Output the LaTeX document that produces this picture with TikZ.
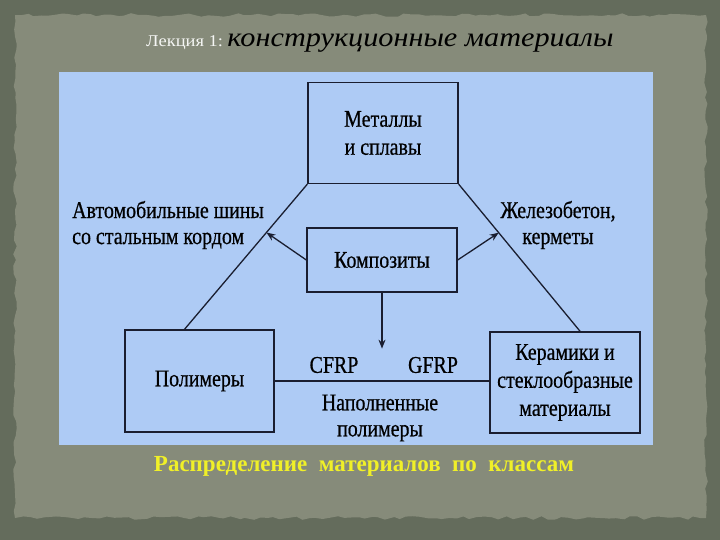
\documentclass[tikz,border=0pt]{standalone}
\usepackage{fontspec}
\setmainfont{Liberation Serif}
\newfontfamily\scanfont[FakeStretch=0.83,FakeBold=0.6]{Liberation Serif}
\newfontfamily\titlefont[FakeStretch=1.12]{Liberation Serif}
\usetikzlibrary{arrows.meta,calc,decorations.pathmorphing}

\definecolor{slate}{RGB}{100,108,92}
\definecolor{paper}{RGB}{134,139,122}
\definecolor{sky}{RGB}{174,203,245}
\definecolor{ink}{RGB}{26,30,48}
\definecolor{capyellow}{RGB}{240,240,40}

\tikzset{
  box/.style={draw=ink, line width=1.3pt, align=center, inner sep=0pt,
    font=\scanfont\fontsize{24}{28}\selectfont},
  lbl/.style={inner sep=0pt, font=\scanfont\fontsize{24}{26}\selectfont},
  link/.style={draw=ink, line width=1.3pt},
  arr/.style={link, -{Stealth[length=9pt,width=7pt]}}
}

\begin{document}
\begin{tikzpicture}[x=1pt,y=1pt,yscale=-1,xscale=1]
\useasboundingbox (0,0) rectangle (720,540);

% background and torn paper
\fill[slate] (0,0) rectangle (720,540);
\pgfmathsetseed{7}
\fill[paper, decorate, decoration={random steps, segment length=7pt, amplitude=1.8pt}]
  (15,15) rectangle (706,518);

% title
\node[anchor=base west, inner sep=0pt, text=white!92!paper,
  font=\titlefont\fontsize{16.5}{18}\selectfont] (lect) at (146,47) {Лекция 1:};
\node[anchor=base west, inner sep=0pt, xshift=4pt,
  font=\titlefont\fontsize{27}{30}\itshape] (topic) at (lect.base east) {конструкционные материалы};

% blue panel
\fill[sky] (59,72) rectangle (653,445);

% boxes
\node[box, minimum width=150, minimum height=101] (metals) at (383,133) {Металлы\\и сплавы};
\node[box, minimum width=150, minimum height=64] (comp) at (382,260) {Композиты};
\node[box, minimum width=149, minimum height=102] (poly) at (199.5,381) {Полимеры};
\node[box, minimum width=150, minimum height=101] (ceram) at (565,382.5) {Керамики и\\стеклообразные\\материалы};

% triangle sides
\coordinate (lfoot) at ($(poly.north west)!0.4!(poly.north east)$);
\coordinate (rfoot) at ($(ceram.north west)!0.6!(ceram.north east)$);
\draw[link] (metals.south west) -- (lfoot);
\draw[link] (metals.south east) -- (rfoot);
\draw[link] (poly.east) -- (poly.east -| ceram.west);

% arrows from composites
\coordinate (ltip) at ($(metals.south west)!0.333!(lfoot)$);
\coordinate (rtip) at ($(metals.south east)!0.33!(rfoot)$);
\coordinate (dtip) at ($(comp.south)+(0,56)$);
\draw[arr] (comp.west) -- (ltip);
\draw[arr] (comp.east) -- (rtip);
\draw[arr] (comp.south) -- (dtip);

% labels
\node[lbl, anchor=west, align=left] (tires) at (72,225) {Автомобильные шины\\со стальным кордом};
\node[lbl, align=center] (rconc) at (558,225) {Железобетон,\\керметы};
\node[lbl] (cfrp) at (334,365) {CFRP};
\node[lbl] (gfrp) at (433,365) {GFRP};
\node[lbl, align=center] (filled) at (380,418) {Наполненные\\полимеры};

% caption
\node[text=capyellow, font=\bfseries\fontsize{23}{25}\selectfont, inner sep=0pt]
  (caption) at (364,466) {Распределение\ \ материалов\ \ по\ \ классам};
\end{tikzpicture}
\end{document}
